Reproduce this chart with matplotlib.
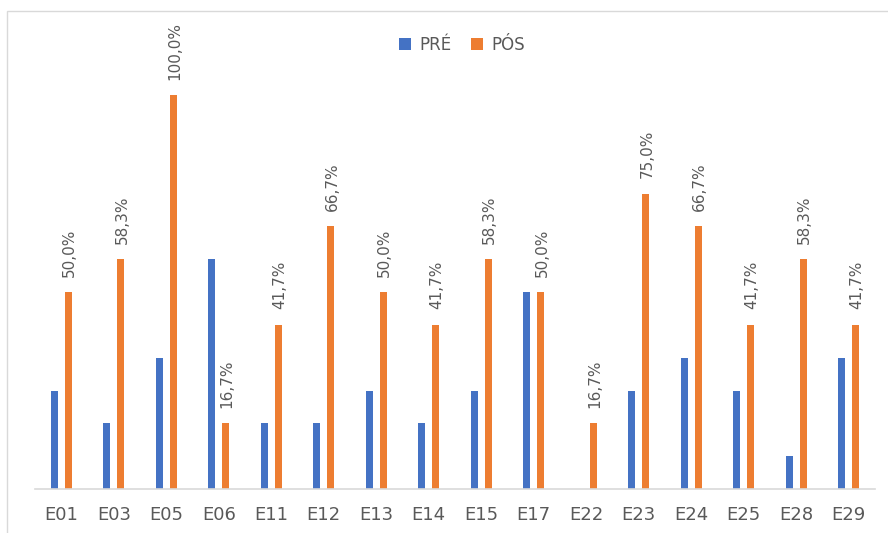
import matplotlib
matplotlib.use("Agg")
import matplotlib.pyplot as plt
import numpy as np
from matplotlib.patches import Rectangle

# Escolas e percentuais antes/depois
escolas = ["E01", "E03", "E05", "E06", "E11", "E12", "E13", "E14",
           "E15", "E17", "E22", "E23", "E24", "E25", "E28", "E29"]
pre = [25.0, 16.7, 33.3, 58.3, 16.7, 16.7, 25.0, 16.7,
       25.0, 50.0, 0.0, 25.0, 33.3, 25.0, 8.3, 33.3]
pos = [50.0, 58.3, 100.0, 16.7, 41.7, 66.7, 50.0, 41.7,
       58.3, 50.0, 16.7, 75.0, 66.7, 41.7, 58.3, 41.7]

AZUL = "#4472C4"
LARANJA = "#ED7D31"
CINZA = "#595959"

fig = plt.figure(figsize=(8.88, 5.33), dpi=100)
ax = fig.add_axes([35 / 888, 1 - 489 / 533, 840 / 888, 429 / 533])

x = np.arange(len(escolas))
w = 0.135
ax.bar(x - w, pre, width=w, color=AZUL, label="PRÉ")
b_pos = ax.bar(x + w, pos, width=w, color=LARANJA, label="PÓS")

# Rótulos rotacionados sobre as barras PÓS
for rect, v in zip(b_pos, pos):
    ax.annotate(f"{v:.1f}%".replace(".", ","),
                (rect.get_x() + rect.get_width() / 2, v),
                xytext=(1, 11), textcoords="offset points",
                rotation=90, ha="center", va="bottom",
                fontsize=11, color=CINZA, annotation_clip=False)

ax.set_xlim(-0.5, len(escolas) - 0.5)
ax.set_ylim(0, 108.9)
ax.set_xticks(x)
ax.set_xticklabels(escolas, fontsize=13, color=CINZA)
ax.tick_params(axis="x", length=0, pad=12)
ax.set_yticks([])
for s in ("top", "right", "left"):
    ax.spines[s].set_visible(False)
ax.spines["bottom"].set_color("#D9D9D9")
ax.spines["bottom"].set_linewidth(1.2)

leg = fig.legend(loc="center", bbox_to_anchor=(462 / 888, 1 - 45 / 533),
                 ncol=2, frameon=False, fontsize=12, handlelength=0.7,
                 handleheight=0.7, columnspacing=1.2, handletextpad=0.5)
for t in leg.get_texts():
    t.set_color(CINZA)

# Moldura cinza clara da área do gráfico
fig.patches.append(Rectangle((7 / 888, -0.1), 1.2, 1.1 - 11 / 533,
                             transform=fig.transFigure, fill=False,
                             edgecolor="#D9D9D9", linewidth=1))

fig.savefig("out.png", dpi=100)
